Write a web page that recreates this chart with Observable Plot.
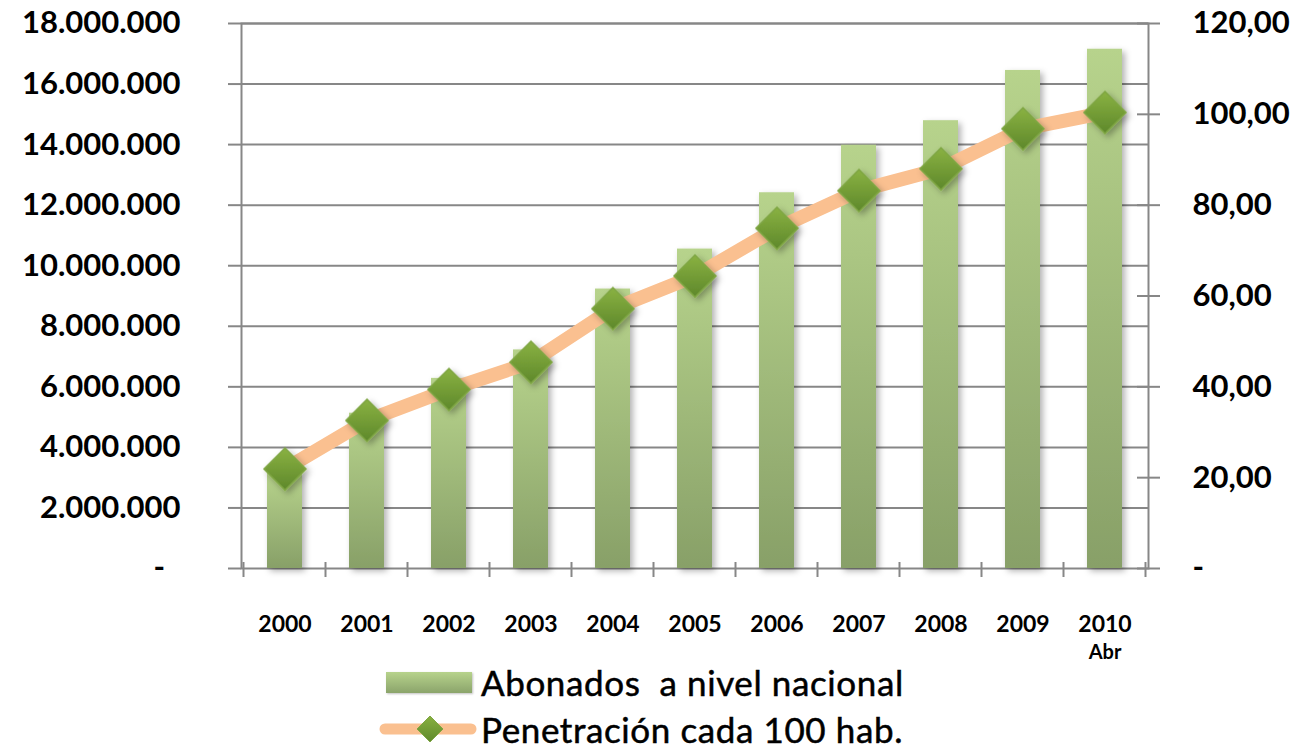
<!DOCTYPE html>
<html>
<head>
<meta charset="utf-8">
<script src="https://cdn.jsdelivr.net/npm/d3@7"></script>
<script src="https://cdn.jsdelivr.net/npm/@observablehq/plot@0.6"></script>
<style>
  html, body { margin: 0; padding: 0; background: white; }
  #wrap { position: relative; width: 1300px; height: 749px; overflow: hidden; font-family: Lato, "Open Sans", sans-serif; }
  .row { position: absolute; display: flex; align-items: center; font-size: 35px; line-height: 1; letter-spacing: 0.6px; color: #000; white-space: pre; -webkit-text-stroke: 0.5px #000; }
  .swatch { width: 86px; height: 21px; background: linear-gradient(#b7d38c, #8ba46b); box-shadow: 1px 1px 2px rgba(0,0,0,0.25); }
</style>
</head>
<body>
<div id="wrap">
  <div id="chart"></div>
  <div class="row" style="left:386px; top:664px; height:36px;">
    <div class="swatch"></div><span style="margin-left:9px;">Abonados  a nivel nacional</span>
  </div>
  <div class="row" style="left:379px; top:711px; height:36px;">
    <svg width="98" height="36" style="display:block">
      <defs>
        <linearGradient id="legDia" x1="0" y1="0" x2="0" y2="1">
          <stop offset="0" stop-color="#88b040"/><stop offset="1" stop-color="#5f892c"/>
        </linearGradient>
      </defs>
      <line x1="6" y1="18" x2="92" y2="18" stroke="#fac090" stroke-width="11" stroke-linecap="round"/>
      <path d="M51,5 L64,18 L51,31 L38,18 Z" fill="url(#legDia)" stroke="#7fa644" stroke-width="1"/>
    </svg><span style="margin-left:4px;">Penetración cada 100 hab.</span>
  </div>
</div>
<script>
// ---- data ----
const years = ["2000", "2001", "2002", "2003", "2004", "2005", "2006", "2007", "2008", "2009", "2010"];
const yearSubLabels = ["", "", "", "", "", "", "", "", "", "", "Abr"];
const abonados = [3150000, 5130000, 6280000, 7220000, 9230000, 10550000, 12410000, 13980000, 14790000, 16450000, 17150000];
const penetracion = [21.9, 32.6, 39.4, 45.4, 57.2, 64.4, 74.9, 83.2, 88.0, 96.8, 100.4];
const leftTicks = [0, 2000000, 4000000, 6000000, 8000000, 10000000, 12000000, 14000000, 16000000, 18000000];
const rightTicks = [0, 20, 40, 60, 80, 100, 120];

const leftMax = 18000000;
const rightMax = 120;
const ratio = leftMax / rightMax;

const rows = years.map((y, i) => ({year: y, abonados: abonados[i], pen: penetracion[i], penScaled: penetracion[i] * ratio, sub: yearSubLabels[i]}));

const loc = d3.formatLocale({decimal: ",", thousands: ".", grouping: [3], currency: ["", ""]});
const fInt = loc.format(",.0f");
const fDec = loc.format(",.2f");
const leftFmt = v => v === 0 ? "-\u2002" : fInt(v);
const rightFmt = v => { const r = Math.round(v / ratio * 100) / 100; return r === 0 ? "-" : fDec(r); };

const diamondSymbol = {
  draw(context, size) {
    const r = Math.sqrt(size / 2);
    context.moveTo(0, -r);
    context.lineTo(r, 0);
    context.lineTo(0, r);
    context.lineTo(-r, 0);
    context.closePath();
  }
};

const gridColor = "#878787";

// boundary ticks on the category axis, drawn from the band scale
function bandBoundaryTicks(index, scales, values, dimensions) {
  const x = scales.x;
  const n = years.length;
  const inner = dimensions.width - dimensions.marginLeft - dimensions.marginRight;
  const step = x.step ? x.step() : inner / n;
  const bw = x.bandwidth ? x.bandwidth() : 0;
  const yb = dimensions.height - dimensions.marginBottom;
  const g = d3.create("svg:g").attr("aria-label", "category-ticks");
  const bounds = years.map(d => x(d) + bw / 2 - step / 2);
  bounds.push(x(years[n - 1]) + bw / 2 + step / 2);
  for (const b of bounds) {
    g.append("line").attr("x1", b).attr("x2", b).attr("y1", yb - 6).attr("y2", yb + 9)
      .attr("stroke", gridColor).attr("stroke-width", 2);
  }
  return g.node();
}

const chart = Plot.plot({
  width: 1300,
  height: 668,
  marginLeft: 241,
  marginRight: 152,
  marginTop: 23,
  marginBottom: 100,
  x: {domain: years, paddingInner: 0.576, paddingOuter: 0.288, label: null},
  y: {domain: [0, leftMax], label: null},
  style: {fontFamily: "Lato, 'Open Sans', sans-serif", background: "white", color: "black", overflow: "visible"},
  marks: [
    Plot.gridY(leftTicks.filter(v => v > 0), {stroke: gridColor, strokeOpacity: 1, strokeWidth: 2}),
    Plot.frame({stroke: gridColor, strokeWidth: 2}),
    Plot.barY(rows, {x: "year", y: "abonados", fill: "url(#barGrad)"}),
    bandBoundaryTicks,
    Plot.axisX({anchor: "bottom", label: null, tickSize: 0, tickPadding: 47, fontSize: 23, fontWeight: "bold", fill: "black"}),
    Plot.text(rows, {x: "year", text: "sub", frameAnchor: "bottom", dy: 90, fontSize: 20, fontWeight: "bold", fill: "black"}),
    Plot.axisY({anchor: "left", label: null, ticks: leftTicks, tickFormat: leftFmt, tickSize: 13, tickPadding: 48, fontSize: 31, fontWeight: "bold", stroke: gridColor, strokeWidth: 2, fill: "black"}),
    Plot.axisY({anchor: "right", label: null, ticks: rightTicks.map(v => v * ratio), tickFormat: rightFmt, tickSize: 23, dx: -12, tickPadding: 33, fontSize: 31, fontWeight: "bold", stroke: gridColor, strokeWidth: 2, fill: "black"}),
    Plot.line(rows, {x: "year", y: "penScaled", stroke: "#fac090", strokeWidth: 14, strokeLinejoin: "round", strokeLinecap: "round"}),
    Plot.dot(rows, {x: "year", y: "penScaled", symbol: diamondSymbol, r: 16.8, fill: "url(#diaGrad)", stroke: "#7fa644", strokeWidth: 1.5})
  ]
});

const svg = d3.select(chart);
const defs = svg.insert("defs", ":first-child");
const bg = defs.append("linearGradient").attr("id", "barGrad").attr("x1", 0).attr("y1", 0).attr("x2", 0).attr("y2", 1);
bg.append("stop").attr("offset", 0).attr("stop-color", "#b7d38c");
bg.append("stop").attr("offset", 1).attr("stop-color", "#88a068");
const dg = defs.append("linearGradient").attr("id", "diaGrad").attr("x1", 0).attr("y1", 0).attr("x2", 0).attr("y2", 1);
dg.append("stop").attr("offset", 0).attr("stop-color", "#8ab242");
dg.append("stop").attr("offset", 1).attr("stop-color", "#5e882b");
const f = defs.append("filter").attr("id", "shadow").attr("x", "-30%").attr("y", "-30%").attr("width", "160%").attr("height", "160%");
f.append("feDropShadow").attr("dx", 3).attr("dy", 3).attr("stdDeviation", 3).attr("flood-color", "#000").attr("flood-opacity", 0.3);
svg.selectAll("g[aria-label='bar'], g[aria-label='dot']").attr("filter", "url(#shadow)");

document.getElementById("chart").appendChild(chart);
</script>
</body>
</html>
